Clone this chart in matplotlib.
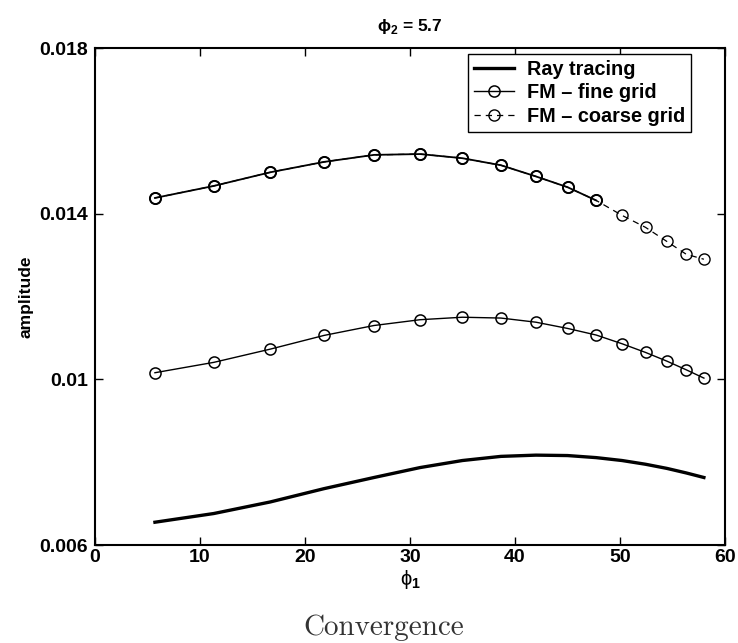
import matplotlib
matplotlib.use('Agg')
import matplotlib.pyplot as plt

plt.rcParams['font.family'] = ['Liberation Sans', 'DejaVu Sans']
plt.rcParams['mathtext.fontset'] = 'custom'
plt.rcParams['mathtext.rm'] = 'Liberation Sans'
plt.rcParams['mathtext.bf'] = 'Liberation Sans:bold'

# incidence angles (deg)
phi1 = [5.71, 11.31, 16.70, 21.80, 26.57, 30.96, 34.99, 38.66,
        41.99, 45.00, 47.73, 50.19, 52.43, 54.46, 56.31, 57.99]

ray_tracing = [0.00655, 0.00676, 0.00704, 0.00736, 0.00763, 0.00787,
               0.00804, 0.00814, 0.00817, 0.00816, 0.00811, 0.00804,
               0.00795, 0.00785, 0.00774, 0.00763]

fm_fine = [0.01016, 0.01041, 0.01073, 0.01106, 0.01130, 0.01144,
           0.01150, 0.01148, 0.01138, 0.01123, 0.01107, 0.01086,
           0.01065, 0.01044, 0.01023, 0.01003]

fm_coarse = [0.01438, 0.01467, 0.01500, 0.01525, 0.01542, 0.01544,
             0.01534, 0.01517, 0.01490, 0.01464, 0.01432, 0.01396,
             0.01367, 0.01333, 0.01302, 0.01290]
n_solid = 11

fig = plt.figure(figsize=(7.38, 6.43), dpi=100)
ax = fig.add_axes([0.1287, 0.1524, 0.8537, 0.7729])

ax.plot(phi1, ray_tracing, color='black', lw=2.4, label='Ray tracing')
ax.plot(phi1, fm_fine, color='black', lw=1.0, marker='o', ms=8,
        mfc='none', mec='black', mew=1.1, label='FM \u2013 fine grid')
ax.plot(phi1, fm_coarse, color='black', lw=0.9, ls=(0, (5, 4)), marker='o', ms=8,
        mfc='none', mec='black', mew=1.0, label='FM \u2013 coarse grid')
ax.plot(phi1[:n_solid], fm_coarse[:n_solid], color='black', lw=1.3, marker='o', ms=8,
        mfc='none', mec='black', mew=1.4)

ax.set_xlim(0, 60)
ax.set_ylim(0.006, 0.018)
ax.set_xticks([0, 10, 20, 30, 40, 50, 60])
ax.set_yticks([0.006, 0.010, 0.014, 0.018])
ax.set_yticklabels(['0.006', '0.01', '0.014', '0.018'])
ax.tick_params(direction='in', length=6, width=1, top=True, right=True,
               labelsize=14)
ax.tick_params(axis='x', pad=3)
ax.tick_params(axis='y', pad=5)
for lbl in ax.get_xticklabels() + ax.get_yticklabels():
    lbl.set_fontweight('bold')
for sp in ax.spines.values():
    sp.set_linewidth(1.5)

ax.set_title(r'$\mathbf{\phi}_\mathbf{2}$ = 5.7', fontsize=12.5, fontweight='bold', pad=12)
ax.set_xlabel(r'$\mathrm{\phi}_\mathbf{1}$', fontsize=14.5, labelpad=1)
ax.set_ylabel('amplitude', fontsize=12.5, fontweight='bold', labelpad=4)

leg = ax.legend(loc='upper right', bbox_to_anchor=(0.946, 0.988), borderaxespad=0,
                fancybox=False, edgecolor='black', framealpha=1, handlelength=2.0,
                prop={'weight': 'bold', 'size': 14.3}, borderpad=0.3,
                labelspacing=0.22, handletextpad=0.65)
leg.get_frame().set_linewidth(1.0)

fig.text(0.52, 0.0124, 'Convergence', fontsize=21, family=['cmr10', 'DejaVu Serif'],
         ha='center', va='baseline', color='#333333')

fig.savefig('out.png', dpi=100)
